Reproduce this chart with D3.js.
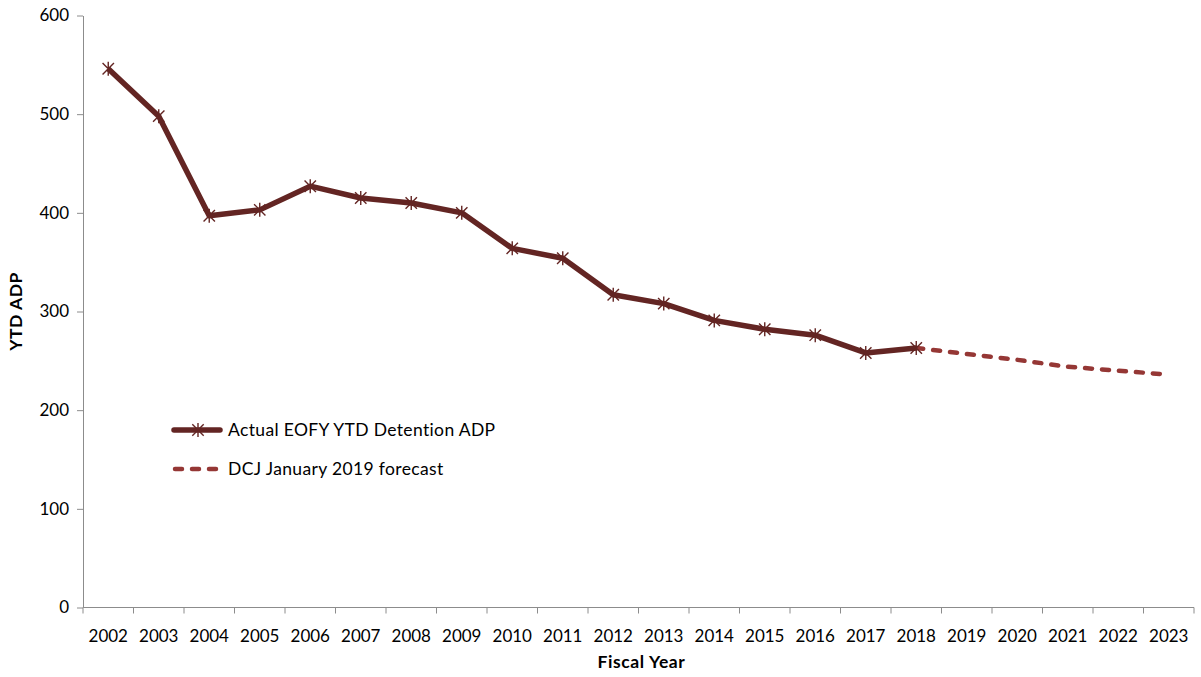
<!DOCTYPE html>
<html>
<head>
<meta charset="utf-8">
<script src="https://cdn.jsdelivr.net/npm/d3@7"></script>
<style>
  html, body { margin: 0; padding: 0; background: #fff; }
  svg { display: block; font-family: Lato, "Open Sans", sans-serif; }
</style>
</head>
<body>
<svg id="chart" width="1201" height="677"></svg>
<script>
// Fiscal years on the category axis
const years = ["2002","2003","2004","2005","2006","2007","2008","2009","2010","2011",
  "2012","2013","2014","2015","2016","2017","2018","2019","2020","2021","2022","2023"];

// Actual end-of-fiscal-year YTD detention ADP
const actualYears = ["2002","2003","2004","2005","2006","2007","2008","2009","2010","2011",
  "2012","2013","2014","2015","2016","2017","2018"];
const actualValues = [546, 498, 397, 403, 427, 415, 410, 400, 364, 354,
  317, 308, 291, 282, 276, 258, 263];

// DCJ January 2019 forecast
const forecastYears = ["2018","2019","2020","2021","2022","2023"];
const forecastValues = [263, 257, 251, 244, 240, 236];

const yTicks = [0, 100, 200, 300, 400, 500, 600];

const actualColor = "#632523";
const forecastColor = "#953735";
const axisColor = "#8c8c8c";

const svg = d3.select("#chart");
const m = { left: 83, right: 1194, top: 15.5, bottom: 607.5 };

const x = d3.scaleBand().domain(years).range([m.left, m.right]).padding(0);
const y = d3.scaleLinear().domain([0, 600]).range([m.bottom, m.top]);
const cx = d => x(d) + x.bandwidth() / 2;

// Y axis
const yAxis = svg.append("g").attr("transform", `translate(${m.left},0)`)
  .call(d3.axisLeft(y).tickValues(yTicks).tickSize(6).tickPadding(8).tickSizeOuter(0));
yAxis.select(".domain").attr("stroke", axisColor);
yAxis.selectAll(".tick line").attr("stroke", axisColor);
yAxis.selectAll(".tick text").attr("font-size", 17).attr("fill", "#000")
  .attr("font-family", "Lato, sans-serif");

// X axis with ticks on the category boundaries
const xAxisG = svg.append("g").attr("transform", `translate(0,${m.bottom})`);
xAxisG.append("line").attr("x1", m.left).attr("x2", m.right)
  .attr("stroke", axisColor);
const bounds = years.map(d => x(d)).concat([m.right]);
xAxisG.selectAll(".bt").data(bounds).join("line")
  .attr("x1", d => d).attr("x2", d => d).attr("y1", 0).attr("y2", 6)
  .attr("stroke", axisColor);
xAxisG.selectAll(".lbl").data(years).join("text")
  .attr("x", d => cx(d)).attr("y", 34)
  .attr("text-anchor", "middle").attr("font-size", 17).attr("fill", "#000")
  .text(d => d);

// Axis titles
svg.append("text").attr("x", (m.left + m.right) / 2 + 3).attr("y", 668)
  .attr("text-anchor", "middle").attr("font-size", 17.5).attr("font-weight", "bold")
  .attr("letter-spacing", 0.6)
  .text("Fiscal Year");
svg.append("text").attr("transform", `translate(22,${(m.top + m.bottom) / 2}) rotate(-90)`)
  .attr("text-anchor", "middle").attr("font-size", 17.5).attr("font-weight", "bold")
  .attr("letter-spacing", 0.5)
  .text("YTD ADP");

const line = d3.line().x(d => cx(d[0])).y(d => y(d[1]));

// Forecast (dashed)
svg.append("path")
  .datum(d3.zip(forecastYears, forecastValues))
  .attr("d", line).attr("fill", "none")
  .attr("stroke", forecastColor).attr("stroke-width", 4.5)
  .attr("stroke-linecap", "round").attr("stroke-dasharray", "7,10");

// Actual series
const actual = d3.zip(actualYears, actualValues);
svg.append("path").datum(actual).attr("d", line).attr("fill", "none")
  .attr("stroke", actualColor).attr("stroke-width", 5.5).attr("stroke-linejoin", "round");

function star(g, px, py, r) {
  const a = r * 0.95;
  g.append("path")
    .attr("d", `M${px - a},${py - a}L${px + a},${py + a}M${px - a},${py + a}L${px + a},${py - a}M${px},${py - r - 1}L${px},${py + r + 1}`)
    .attr("stroke", actualColor).attr("stroke-width", 1.4).attr("fill", "none");
}
const markers = svg.append("g");
actual.forEach(d => star(markers, cx(d[0]), y(d[1]), 6));

// Legend
const lg = svg.append("g");
lg.append("line").attr("x1", 174).attr("x2", 220).attr("y1", 430).attr("y2", 430)
  .attr("stroke", actualColor).attr("stroke-width", 5.5).attr("stroke-linecap", "round");
star(lg, 198, 430, 6);
lg.append("text").attr("x", 228).attr("y", 436).attr("font-size", 17.5)
  .attr("letter-spacing", 0.35).text("Actual EOFY YTD Detention ADP");
lg.append("line").attr("x1", 175).attr("x2", 222).attr("y1", 469).attr("y2", 469)
  .attr("stroke", forecastColor).attr("stroke-width", 4.5)
  .attr("stroke-linecap", "round").attr("stroke-dasharray", "7,10");
lg.append("text").attr("x", 228).attr("y", 475).attr("font-size", 17.5)
  .attr("letter-spacing", 0.35).text("DCJ January 2019 forecast");
</script>
</body>
</html>
